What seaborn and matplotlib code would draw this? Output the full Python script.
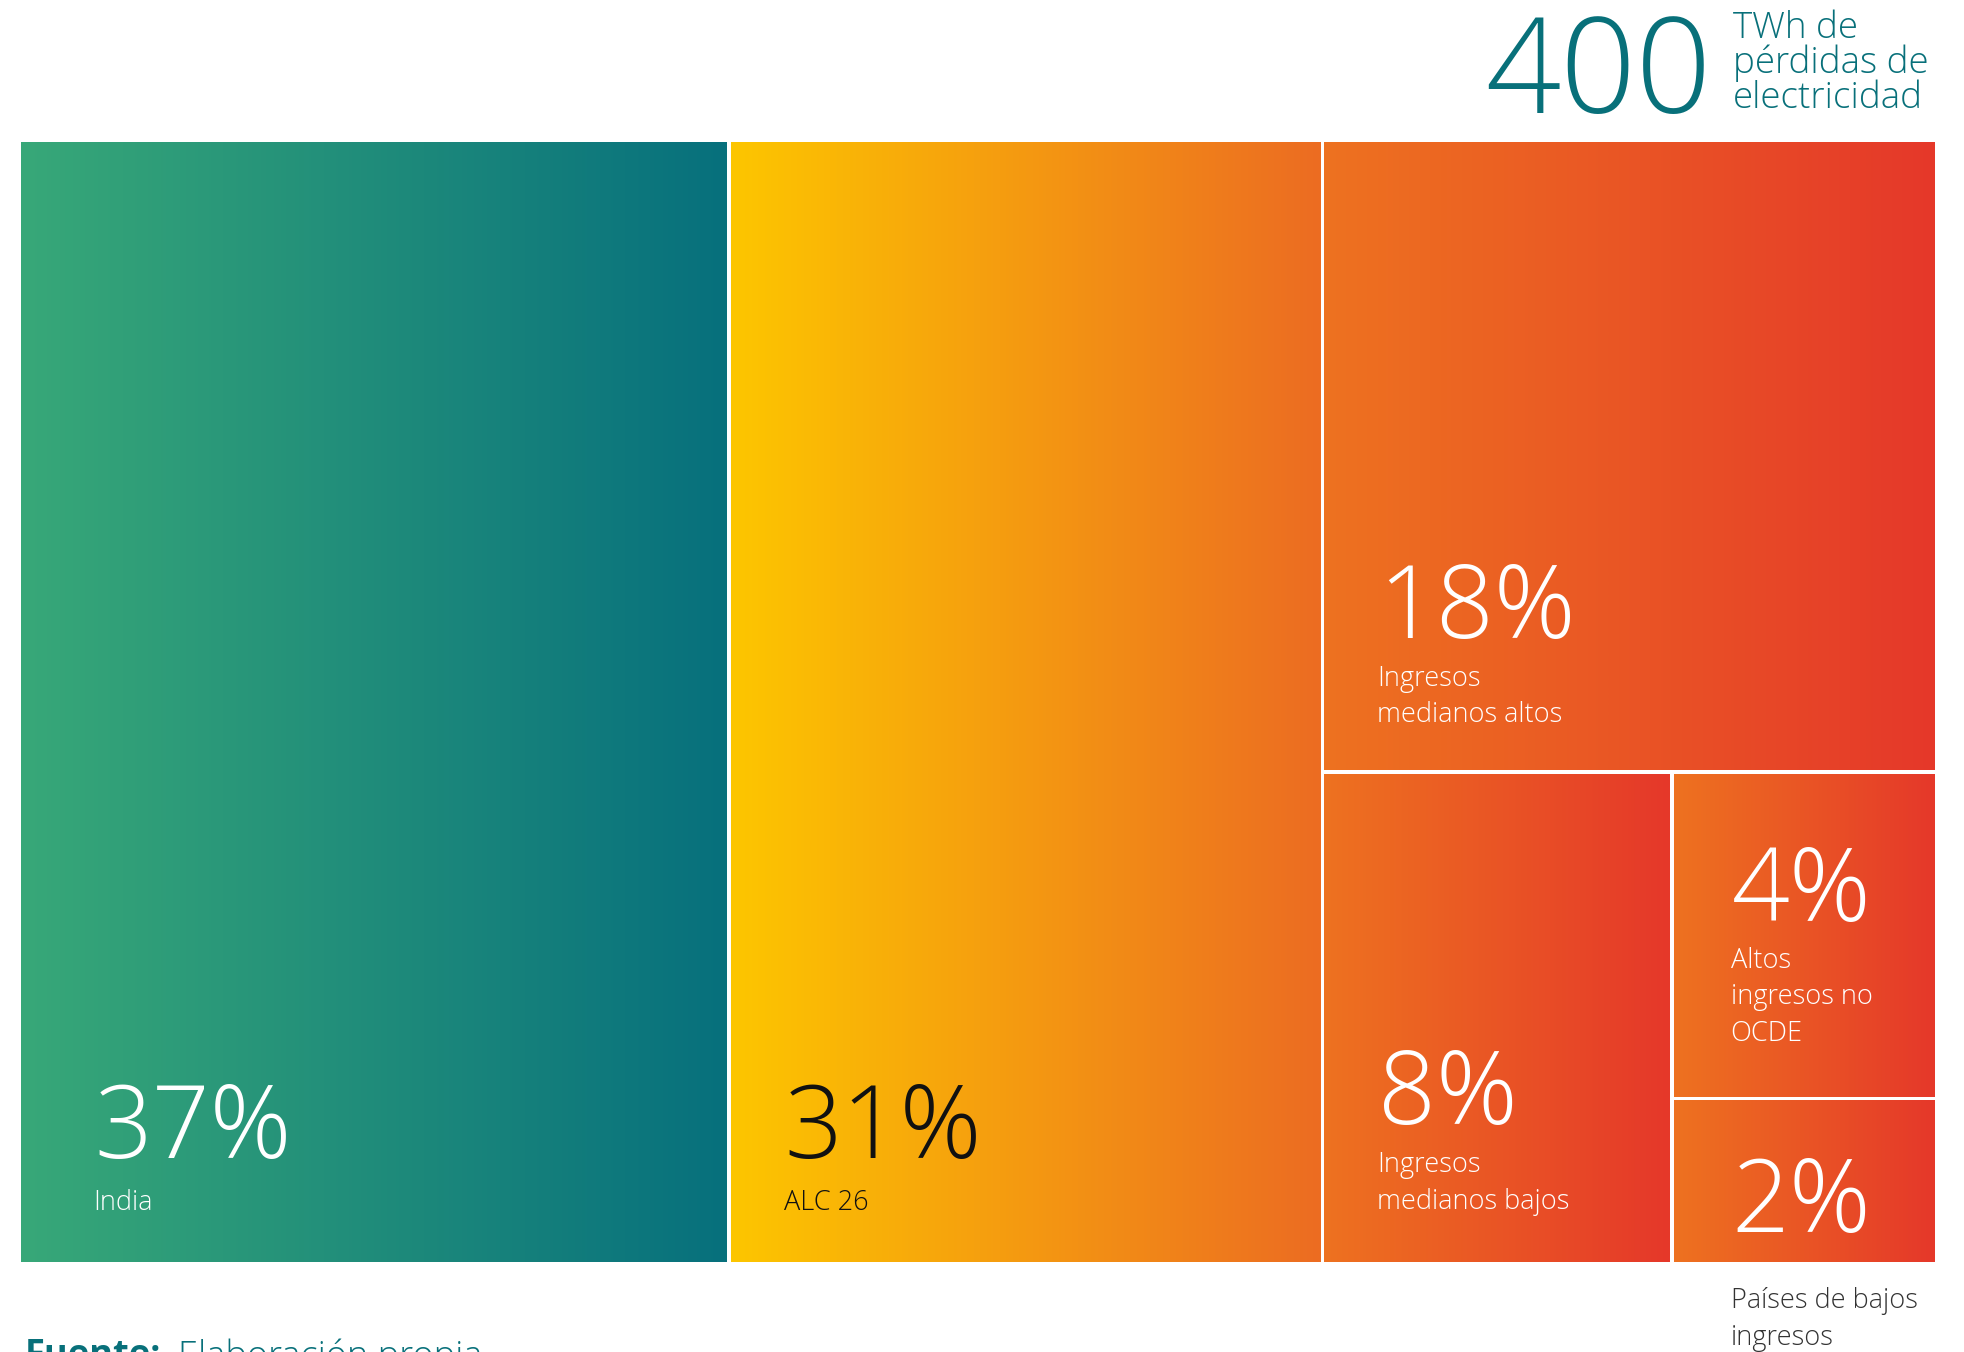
import numpy as np
import pandas as pd
import seaborn as sns
import matplotlib
matplotlib.use("Agg")
import matplotlib.pyplot as plt
from matplotlib.colors import LinearSegmentedColormap
from matplotlib.transforms import offset_copy

sns.set_theme(style="white")
plt.rcParams["font.family"] = ["Open Sans", "DejaVu Sans"]

# Shares of electricity losses (%), by group
groups = ["India", "ALC 26", "Ingresos\nmedianos altos", "Ingresos\nmedianos bajos",
          "Altos\ningresos no\nOCDE", "Países de bajos\ningresos"]
shares = [37, 31, 18, 8, 4, 2]
total_twh = 400

GREEN = ("#38a878", "#07707d")
YELLOW = ("#fdc600", "#ec6c22")
RED = ("#ee7220", "#e5382a")
gradients = [GREEN, YELLOW, RED, RED, RED, RED]
value_colors = ["white", "#111111", "white", "white", "white", "white"]
TEAL = "#08707a"

df = pd.DataFrame({"group": groups, "share": shares})

# Treemap layout (slice and dice): two full-height columns, then the rest split
s = df["share"].to_numpy(dtype=float)
rects = []
x0 = 0.0
rects.append((x0, 0.0, s[0], 1.0)); x0 += s[0]
rects.append((x0, 0.0, s[1], 1.0)); x0 += s[1]
rest_w = s[2:].sum()
h_top = s[2] / rest_w
rects.append((x0, 1 - h_top, rest_w, h_top))
bottom_h = 1 - h_top
w8 = rest_w * s[3] / s[3:].sum()
rects.append((x0, 0.0, w8, bottom_h))
x1 = x0 + w8
w_small = rest_w - w8
h4 = bottom_h * s[4] / s[4:].sum()
rects.append((x1, bottom_h - h4, w_small, h4))
rects.append((x1, 0.0, w_small, bottom_h - h4))

W, H = 1965, 1352
AX_W, AX_H = 1913, 1120
fig = plt.figure(figsize=(W / 100, H / 100), dpi=100)
ax = fig.add_axes([21 / W, 90 / H, AX_W / W, AX_H / H])
total = s.sum()
ax.set_xlim(0, total)
ax.set_ylim(0, 1)
ax.set_axis_off()

# white gutters between tiles (in pixels)
gap = 4.0
gx = gap / 2 * total / AX_W
gy = gap / 2 / AX_H

grad = np.linspace(0, 1, 256).reshape(1, -1)
for (rx, ry, rw, rh), (c0, c1) in zip(rects, gradients):
    cmap = LinearSegmentedColormap.from_list("g", [c0, c1])
    l = rx + (gx if rx > 1e-9 else 0)
    r = rx + rw - (gx if rx + rw < total - 1e-9 else 0)
    b = ry + (gy if ry > 1e-9 else 0)
    t = ry + rh - (gy if ry + rh < 1 - 1e-9 else 0)
    ax.imshow(grad, cmap=cmap, extent=(l, r, b, t),
              aspect="auto", interpolation="bicubic", zorder=1)


def place(rect, dx, dy, text, **kw):
    rx, ry, rw, rh = rect
    tr = offset_copy(ax.transData, fig=fig, x=dx, y=dy, units="dots")
    ax.text(rx, ry, text, transform=tr, clip_on=False, **kw)


big = dict(fontsize=73, fontweight="light", va="baseline", ha="left")
small = dict(fontsize=19.5, fontweight="light", va="baseline", ha="left")

# value and group labels: (dx, value baseline, label first baseline)
label_pos = [(73, 104, 52), (56, 104, 52), (56, 134, 86), (56, 138, 90),
             (60, 178, 131), (60, 30, -46)]
for i, (rect, txt, val) in enumerate(zip(rects, df["group"], df["share"])):
    dx, vy, ly = label_pos[i]
    place(rect, dx, vy, f"{val}%", color=value_colors[i], **big)
    lab_color = value_colors[i] if i < 5 else "#333333"
    for j, line in enumerate(txt.split("\n")):
        place(rect, dx - 1, ly - 36.5 * j, line, color=lab_color, **small)

# headline total
fig.text(1711 / W, 1 - 113 / H, f"{total_twh}", fontsize=95, fontweight="light",
         color=TEAL, ha="right", va="baseline")
for j, line in enumerate(["TWh de", "pérdidas de", "electricidad"]):
    fig.text(1733 / W, 1 - (38 + 35 * j) / H, line, fontsize=26.5, fontweight="light",
             color=TEAL, ha="left", va="baseline")

# source note
fig.text(25 / W, 1 - 1338 / H, "Fuente:", fontsize=26, fontweight="bold",
         color=TEAL, ha="left", va="top")
fig.text(178 / W, 1 - 1338 / H, "Elaboración propia", fontsize=26, fontweight="light",
         color=TEAL, ha="left", va="top")

fig.savefig("out.png", dpi=100, facecolor="white")
